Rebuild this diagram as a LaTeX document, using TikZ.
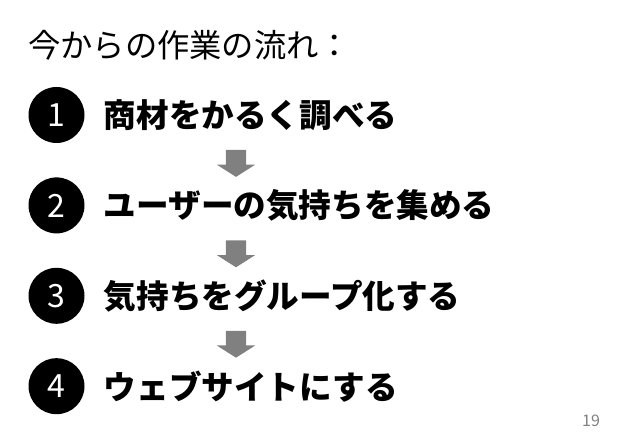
\documentclass[tikz,border=0pt]{standalone}
\usepackage{fontspec}
\setmainfont{Noto Sans CJK JP}
\usetikzlibrary{shapes,arrows,positioning,calc}

\begin{document}
\begin{tikzpicture}[x=1pt, y=1pt, node distance=34pt,
    numcircle/.style={draw=none, circle, fill=black, minimum size=56pt, inner sep=0, text=white, font=\fontsize{32pt}{32pt}\selectfont},
    steptext/.style={inner sep=0, font=\bfseries\fontsize{32.6pt}{32.6pt}\selectfont},
    downarrow/.style={single arrow, fill=gray, draw=none, inner sep=10pt, minimum height=25pt, minimum width=38pt, single arrow head extend=9pt, single arrow tip angle=115, shape border rotate=270}]
    \useasboundingbox (0,0) rectangle (638,442);

    \node (title) [anchor=west, inner sep=0, font=\fontsize{32.3pt}{32.3pt}\selectfont] at (28,397) {今からの作業の流れ：};

    \node (num1) [numcircle] at (56.5,327) {1};
    \node (num2) [numcircle, below=of num1] {2};
    \node (num3) [numcircle, below=of num2] {3};
    \node (num4) [numcircle, below=of num3] {4};

    \node (step1) [steptext, right=19pt of num1] {商材をかるく調べる};
    \node (step2) [steptext, right=19pt of num2] {ユーザーの気持ちを集める};
    \node (step3) [steptext, right=19pt of num3] {気持ちをグループ化する};
    \node (step4) [steptext, right=19pt of num4] {ウェブサイトにする};

    \node (arrow1) [downarrow] at ($(num1)!0.5!(num2) + (179.5,0)$) {};
    \node (arrow2) [downarrow] at ($(num2)!0.5!(num3) + (179.5,0)$) {};
    \node (arrow3) [downarrow] at ($(num3)!0.5!(num4) + (179.5,0)$) {};

    \node (page) [text=gray, inner sep=0, font=\fontsize{16pt}{16pt}\selectfont] at (591,21) {19};
\end{tikzpicture}
\end{document}
